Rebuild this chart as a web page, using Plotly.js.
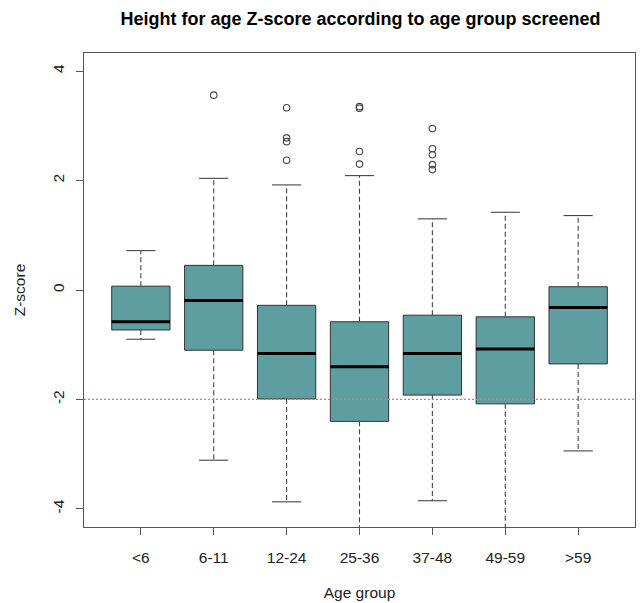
<!DOCTYPE html>
<html>
<head>
<meta charset="utf-8">
<script src="https://cdn.plot.ly/plotly-3.0.1.min.js"></script>
<style>html,body{margin:0;padding:0;background:#fff;}#chart{width:641px;height:603px;}</style>
</head>
<body>
<div id="chart"></div>
<script>
// ---- data ----
const ageGroups = ['<6', '6-11', '12-24', '25-36', '37-48', '49-59', '>59'];
const whiskerLow = [-0.90, -3.11, -3.87, -4.70, -3.85, -4.70, -2.94];
const q1 = [-0.73, -1.10, -1.99, -2.40, -1.92, -2.08, -1.35];
const median = [-0.58, -0.19, -1.16, -1.40, -1.16, -1.08, -0.32];
const q3 = [0.07, 0.45, -0.28, -0.58, -0.46, -0.49, 0.06];
const whiskerHigh = [0.72, 2.04, 1.92, 2.09, 1.30, 1.42, 1.36];
const outliers = [
  [],
  [3.56],
  [3.33, 2.78, 2.71, 2.37],
  [3.35, 3.32, 2.53, 2.30],
  [2.95, 2.58, 2.47, 2.29, 2.20],
  [],
  []
];
const stuntingCutoff = -2;
const yTicks = [-4, -2, 0, 2, 4];

// ---- styles ----
const pos = ageGroups.map((_, i) => i + 1);
const boxHalf = 0.4, stapleHalf = 0.2;
const fill = '#5F9EA0';
const edge = '#333333';
const fontFam = '"Liberation Sans", Arial, sans-serif';

const traces = [];

// boxes (q1..q3), whiskers drawn separately as dashed lines
traces.push({
  type: 'box', x: pos, q1: q1, median: median, q3: q3,
  lowerfence: q1, upperfence: q3,
  width: 2 * boxHalf, whiskerwidth: 0,
  fillcolor: fill, line: {color: edge, width: 1},
  boxpoints: false, hoverinfo: 'skip', showlegend: false
});

// dashed whiskers
const wx = [], wy = [];
pos.forEach((p, i) => {
  wx.push(p, p, null, p, p, null);
  wy.push(q3[i], whiskerHigh[i], null, q1[i], whiskerLow[i], null);
});
traces.push({type: 'scatter', mode: 'lines', x: wx, y: wy,
  line: {color: '#444', width: 1.1, dash: '5px,3px'}, hoverinfo: 'skip', showlegend: false});

// staples
const sx = [], sy = [];
pos.forEach((p, i) => {
  sx.push(p - stapleHalf, p + stapleHalf, null, p - stapleHalf, p + stapleHalf, null);
  sy.push(whiskerHigh[i], whiskerHigh[i], null, whiskerLow[i], whiskerLow[i], null);
});
traces.push({type: 'scatter', mode: 'lines', x: sx, y: sy,
  line: {color: '#444', width: 1.1}, hoverinfo: 'skip', showlegend: false});

// thick medians
const mx = [], my = [];
pos.forEach((p, i) => {
  mx.push(p - boxHalf, p + boxHalf, null);
  my.push(median[i], median[i], null);
});
traces.push({type: 'scatter', mode: 'lines', x: mx, y: my,
  line: {color: '#000', width: 3}, hoverinfo: 'skip', showlegend: false});

// outliers
const ox = [], oy = [];
outliers.forEach((arr, i) => arr.forEach(v => { ox.push(pos[i]); oy.push(v); }));
traces.push({type: 'scatter', mode: 'markers', x: ox, y: oy,
  marker: {symbol: 'circle-open', size: 6.5, color: '#444', line: {width: 1.1}},
  hoverinfo: 'skip', showlegend: false});

const layout = {
  width: 641, height: 603,
  margin: {l: 84, r: 6, t: 53, b: 76},
  paper_bgcolor: '#fff', plot_bgcolor: '#fff',
  font: {family: fontFam, color: '#222', size: 15},
  title: {
    text: '<b>Height for age Z-score according to age group screened</b>',
    font: {family: fontFam, size: 18, color: '#000'},
    x: 0.5625, xref: 'container', xanchor: 'center',
    y: 1 - 19 / 603, yref: 'container', yanchor: 'middle'
  },
  xaxis: {
    range: [0.22, 7.78], tickvals: pos, ticktext: ageGroups,
    ticks: 'outside', ticklen: 7, tickcolor: '#555', tickwidth: 1,
    showline: true, mirror: true, linecolor: '#555', linewidth: 1,
    showgrid: false, zeroline: false,
    tickfont: {size: 15.5, color: '#222'},
    ticklabelstandoff: 9,
    title: {text: 'Age group', font: {size: 15.5, color: '#222'}, standoff: 22}
  },
  yaxis: {
    range: [-4.33, 4.33], tickvals: yTicks, ticktext: yTicks.map(String),
    tickangle: -90,
    ticks: 'outside', ticklen: 7, tickcolor: '#555', tickwidth: 1,
    showline: true, mirror: true, linecolor: '#555', linewidth: 1,
    showgrid: false, zeroline: false,
    tickfont: {size: 15.5, color: '#222'},
    ticklabelstandoff: 6,
    title: {text: 'Z-score', font: {size: 15.5, color: '#222'}, standoff: 20}
  },
  shapes: [{
    type: 'line', xref: 'paper', x0: 0, x1: 1, yref: 'y', y0: stuntingCutoff, y1: stuntingCutoff,
    line: {color: 'rgb(245,110,90)', width: 1.2, dash: '2px,2px'}, layer: 'above'
  }]
};

Plotly.newPlot('chart', traces, layout, {displayModeBar: false, staticPlot: true});
</script>
</body>
</html>
